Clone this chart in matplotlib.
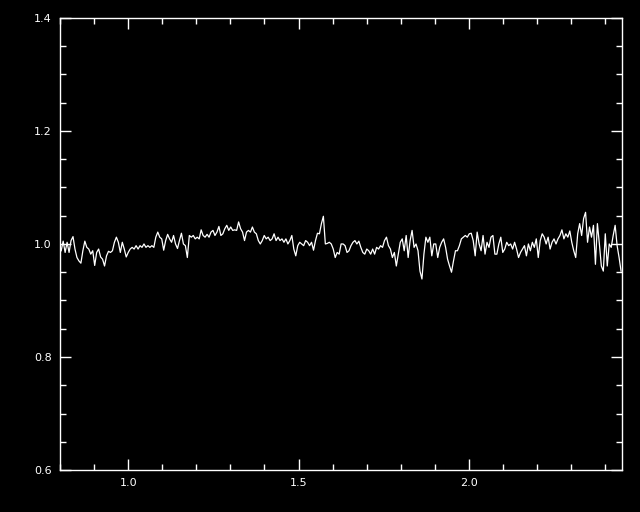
import numpy as np
import matplotlib
matplotlib.use("Agg")
import matplotlib.pyplot as plt
from matplotlib.ticker import MultipleLocator

# spectrum values, left to right (uniform x grid)
flux = [
    0.988, 1.005, 0.985, 1.003, 0.985, 1.006, 1.013, 0.991, 0.976, 0.970,
    0.966, 0.988, 1.005, 0.994, 0.991, 0.982, 0.988, 0.962, 0.985, 0.991,
    0.977, 0.973, 0.961, 0.979, 0.987, 0.985, 0.988, 1.003, 1.012, 1.003,
    0.985, 1.003, 0.991, 0.977, 0.985, 0.991, 0.994, 0.991, 0.997, 0.991,
    0.997, 0.994, 1.000, 0.994, 0.997, 0.994, 0.997,
    # 2nd block
    0.994, 1.012, 1.021, 1.012, 1.009, 0.989, 1.006, 1.017, 1.009, 1.003,
    1.015, 1.000, 0.992, 1.006, 1.019, 1.000, 0.997, 0.976, 1.015, 1.012,
    1.015, 1.009, 1.012, 1.009, 1.025, 1.015, 1.012, 1.017, 1.012, 1.021,
    1.024, 1.015, 1.021, 1.031, 1.015, 1.018, 1.027, 1.033, 1.024, 1.030,
    1.024, 1.025, 1.024, 1.039, 1.027, 1.021, 1.006, 1.021,
    # 3rd block
    1.024, 1.021, 1.030, 1.021, 1.018, 1.006, 1.000, 1.006, 1.015, 1.009,
    1.012, 1.006, 1.009, 1.018, 1.006, 1.012, 1.006, 1.009, 1.003, 1.009,
    1.000, 1.006, 1.015, 0.991, 0.979, 0.997, 1.003, 1.000, 0.997, 1.006,
    1.003, 0.997, 1.003, 0.989, 1.006, 1.019, 1.018, 1.036, 1.049, 1.000,
    1.001, 1.003, 1.000, 0.991, 0.976, 0.985, 0.982, 1.000,
    # 4th block
    1.000, 0.997, 0.985, 0.988, 0.997, 1.003, 1.006, 1.000, 1.005, 0.994,
    0.985, 0.982, 0.991, 0.988, 0.982, 0.991, 0.982, 0.994, 0.991, 0.997,
    0.994, 1.006, 1.012, 0.997, 0.991, 0.976, 0.985, 0.961, 0.982, 1.003,
    1.009, 0.988, 1.015, 0.976, 1.006, 1.024, 0.994, 1.000, 0.988, 0.952,
    0.938, 0.982, 1.012, 1.003, 1.012, 0.979, 1.000,
    # 5th block
    1.000, 0.976, 0.994, 1.003, 1.009, 0.994, 0.973, 0.961, 0.950, 0.970,
    0.988, 0.988, 0.997, 1.009, 1.012, 1.015, 1.012, 1.018, 1.019, 1.006,
    0.979, 1.021, 1.000, 0.988, 1.015, 0.982, 1.003, 0.994, 1.012, 1.015,
    0.982, 0.982, 1.000, 1.012, 0.985, 0.991, 1.003, 0.997, 1.000, 0.991,
    1.003, 0.991, 0.976, 0.985, 0.991, 0.997, 0.979, 1.000,
    # 6th block
    0.988, 1.003, 0.994, 1.009, 0.976, 1.006, 1.018, 1.012, 1.000, 1.012,
    0.991, 1.003, 1.009, 1.000, 1.009, 1.015, 1.025, 1.009, 1.018, 1.012,
    1.023, 1.003, 0.988, 0.976, 1.018, 1.036, 1.015, 1.045, 1.056, 1.003,
    1.030, 1.012, 1.033, 0.964, 1.036, 1.000, 0.961, 0.952, 1.018, 0.961,
    1.000, 0.994, 1.015, 1.033, 0.997, 0.976, 0.952,
]
x_start, x_end = 0.803, 2.447
wave = np.linspace(x_start, x_end, len(flux))

fig = plt.figure(figsize=(6.4, 5.12), dpi=100, facecolor="black")
ax = fig.add_axes([0.094, 0.082, 0.878, 0.883], facecolor="black")

ax.plot(wave, flux, color="white", lw=0.9)

ax.set_xlim(0.8, 2.45)
ax.set_ylim(0.6, 1.4)
ax.xaxis.set_major_locator(MultipleLocator(0.5))
ax.xaxis.set_minor_locator(MultipleLocator(0.1))
ax.yaxis.set_major_locator(MultipleLocator(0.2))
ax.yaxis.set_minor_locator(MultipleLocator(0.05))

for s in ax.spines.values():
    s.set_color("white")
    s.set_linewidth(1.0)

ax.tick_params(which="both", direction="in", top=True, right=True,
               colors="white", labelsize=8, width=1.0)
ax.tick_params(which="major", length=8, pad=6)
ax.tick_params(which="minor", length=4.5)

fig.savefig("out.png", dpi=100, facecolor="black")
